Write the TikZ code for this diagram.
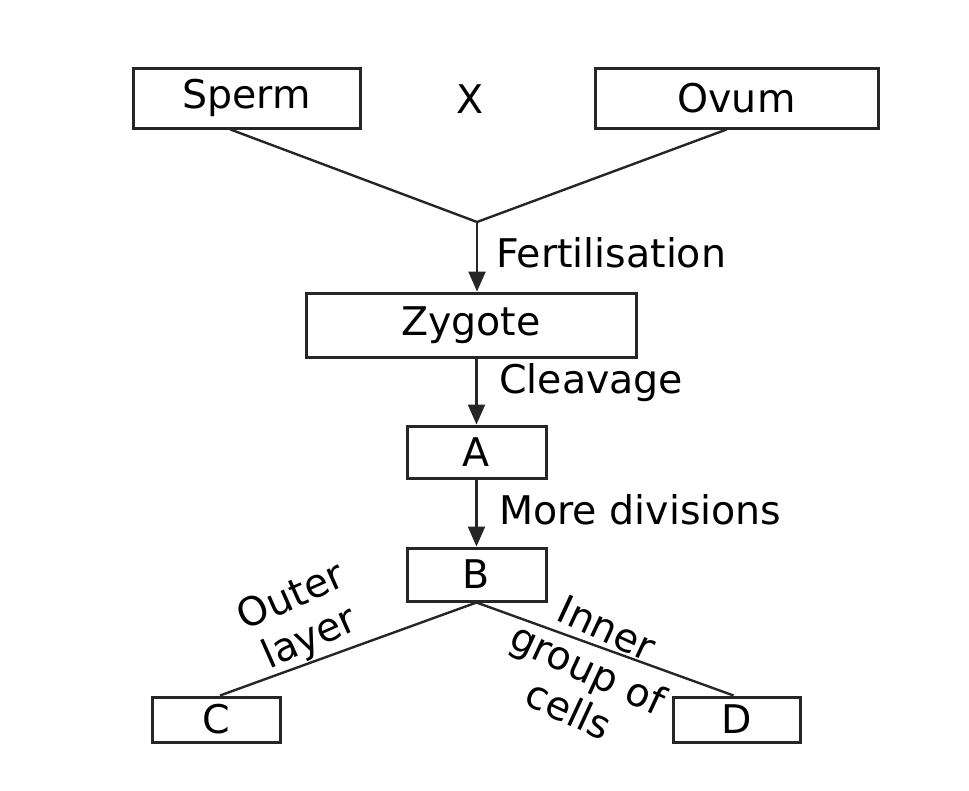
\documentclass[tikz,border=0pt]{standalone}
\usepackage{fontspec}
\setmainfont{DejaVu Sans}
\usetikzlibrary{arrows.meta}
\begin{document}
\begin{tikzpicture}[x=1pt,y=-1pt,
  box/.style={draw=black!85, line width=3pt, inner sep=0pt, text=black,
    font=\fontsize{39.5}{42}\selectfont},
  lbl/.style={inner sep=0pt, align=center, text=black,
    font=\fontsize{39.5}{45}\selectfont},
  conn/.style={line width=2.4pt, draw=black!85},
  arr/.style={conn, -{Triangle[length=20pt,width=17pt]}}]
\useasboundingbox (0,0) rectangle (969,790);
% boxes
\node[box, minimum width=227pt, minimum height=60pt] (sperm) at (246.5,98) {Sperm};
\node[box, minimum width=283pt, minimum height=60pt] (ovum) at (736.5,98) {Ovum};
\node[lbl] (x) at (470,99) {X};
\node[box, minimum width=330pt, minimum height=64pt] (zyg) at (471,325) {Zygote};
\node[box, minimum width=139pt, minimum height=52pt] (a) at (476.5,452) {A};
\node[box, minimum width=139pt, minimum height=53pt] (b) at (476.5,574.5) {B};
\node[box, minimum width=128pt, minimum height=45pt] (c) at (216,719.5) {C};
\node[box, minimum width=127pt, minimum height=45pt] (d) at (736.5,719.5) {D};
% labels
\node[lbl, anchor=west] (fert) at (496,253) {Fertilisation};
\node[lbl, anchor=west] (cleav) at (499,383) {Cleavage};
\node[lbl, anchor=west] (more) at (499,510) {More divisions};
\node[lbl, rotate=24] (outer) at (301,619) {Outer\\layer};
\node[lbl, rotate=-25] (inner) at (588,669) {Inner\\group of\\cells};
% connectors
\coordinate (j) at (477,222);
\draw[conn] ([xshift=-16pt]sperm.south) -- (j);
\draw[conn] ([xshift=-10pt]ovum.south) -- (j);
\draw[arr] (j) -- (j |- zyg.north);
\draw[arr] (a.north |- zyg.south) -- (a.north);
\draw[arr] (a.south) -- (b.north);
\draw[conn] (b.south) -- ([xshift=4pt]c.north);
\draw[conn] (b.south) -- ([xshift=-3pt]d.north);
\end{tikzpicture}
\end{document}
